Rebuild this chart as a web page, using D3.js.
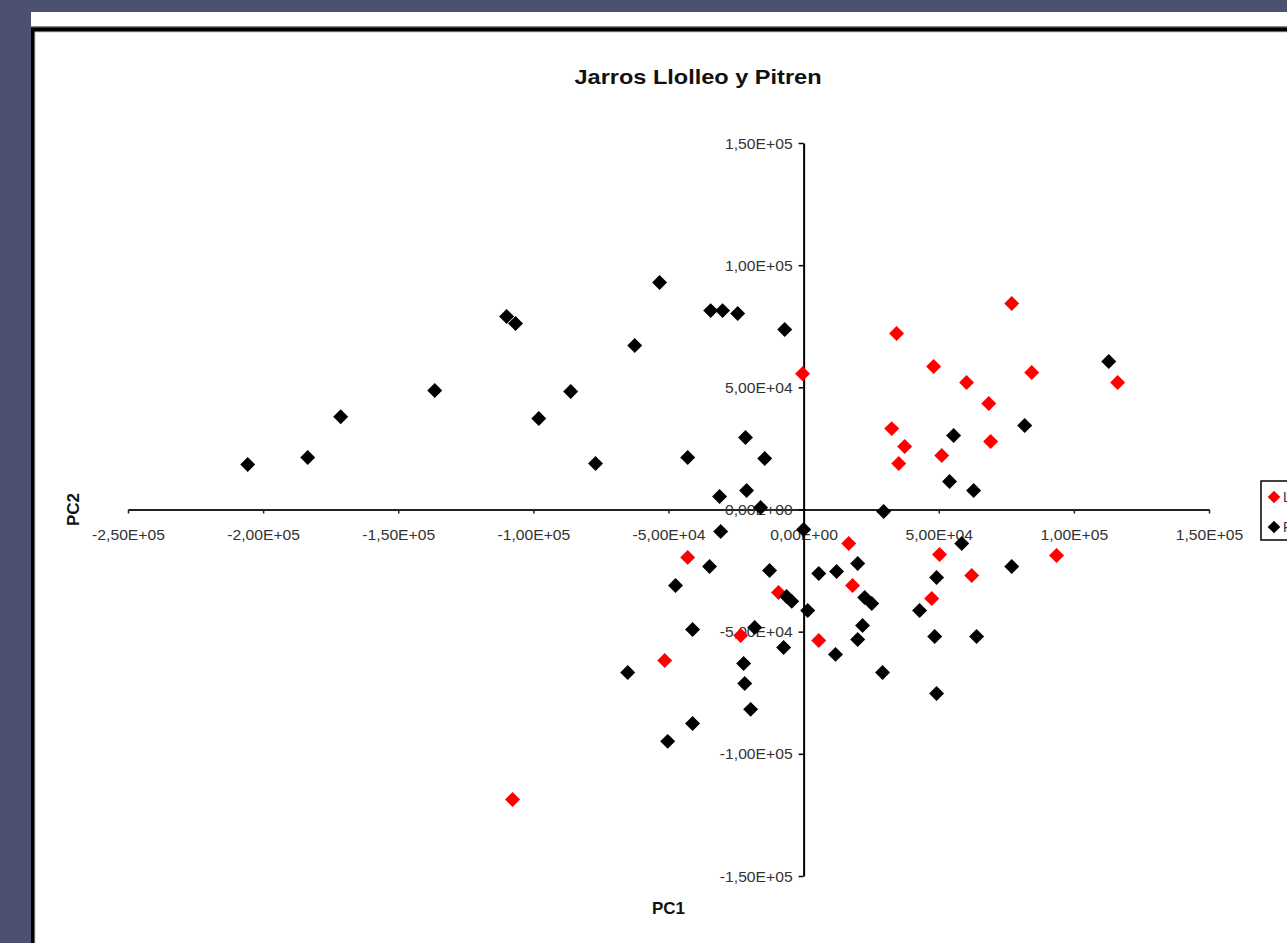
<!DOCTYPE html>
<html>
<head>
<meta charset="utf-8">
<script src="https://cdn.jsdelivr.net/npm/d3@7"></script>
<style>
  html, body { margin: 0; padding: 0; background: #4d5170; overflow: hidden; }
  svg { display: block; }
</style>
</head>
<body>
<svg id="chart" width="1287" height="943"></svg>
<script>
// ---------- DATA ----------
const chartTitle = "Jarros Llolleo y Pitren";
const seriesNames = ["Llolleo", "Pitren"];
const seriesColors = ["#ff0000", "#000000"];

const llolleoX = [-400, 34400, 77000, 48100, 60300, 84400, 116200, 68500, 32600, 37400, 69200, 35200, 51100,
  -42900, -9300, -23300, -51400, -107700, 16700, 18100, 5600, 50300, 62200, 93600, 47400];
const llolleoY = [55600, 72000, 84300, 58500, 52000, 56100, 52000, 43400, 33100, 25800, 27800, 18800, 22100,
  -19600, -34000, -51600, -61800, -118700, -13900, -31100, -53600, -18400, -27000, -18800, -36400];

const pitrenX = [-205700, -183500, -171300, -136500, -109900, -106600, -98000, -86200, -77000, -53300,
  -62500, -42900, -34400, -30000, -24400, -7000, -21500, -14400, -31100, -21100,
  -15900, -30700, 0, 29600, 54000, 62900, 55500, 81800, 112900, -34800,
  -47400, -41100, -65100, -41100, -50300, -12600, -6300, -4400, 1500, -18100,
  -7400, -22200, -21800, -19600, 5600, 12200, 20000, 22600, 25200, 21800,
  20000, 11800, 29200, 42900, 49200, 48500, 58500, 64000, 77000, 49200];
const pitrenY = [18400, 21300, 38000, 48700, 79000, 76100, 37200, 48300, 18800, 92900,
  67100, 21300, 81400, 81400, 80200, 73700, 29500, 20900, 5300, 7800,
  800, -9000, -8200, -800, 11500, 7800, 30300, 34400, 60600, -23300,
  -31100, -49100, -66700, -87600, -94900, -25000, -35600, -37600, -41300, -48300,
  -56500, -63000, -71200, -81800, -26200, -25400, -22100, -36000, -38500, -47500,
  -53200, -59300, -66700, -41300, -27800, -52000, -13900, -52000, -23300, -75300];

const xTickValues = [-250000, -200000, -150000, -100000, -50000, 0, 50000, 100000, 150000];
const xTickLabels = ["-2,50E+05", "-2,00E+05", "-1,50E+05", "-1,00E+05", "-5,00E+04", "0,00E+00", "5,00E+04", "1,00E+05", "1,50E+05"];
const yTickValues = [-150000, -100000, -50000, 0, 50000, 100000, 150000];
const yTickLabels = ["-1,50E+05", "-1,00E+05", "-5,00E+04", "0,00E+00", "5,00E+04", "1,00E+05", "1,50E+05"];
const xAxisTitle = "PC1";
const yAxisTitle = "PC2";

// ---------- DRAW ----------
const svg = d3.select("#chart");
const W = 1287, H = 943;

// page background / frame
svg.append("rect").attr("x", 0).attr("y", 0).attr("width", W).attr("height", H).attr("fill", "#4d5170");
svg.append("rect").attr("x", 31).attr("y", 12).attr("width", W - 31).attr("height", 15).attr("fill", "#ffffff");
svg.append("rect").attr("x", 31).attr("y", 26).attr("width", W - 31).attr("height", 1.5).attr("fill", "#8a8a8a");
svg.append("rect").attr("x", 31).attr("y", 27.5).attr("width", W - 31).attr("height", H - 27.5).attr("fill", "#000000");
svg.append("rect").attr("x", 34.5).attr("y", 31.5).attr("width", W - 34.5).attr("height", H - 31.5).attr("fill", "#c8c8c8");
svg.append("rect").attr("x", 35.5).attr("y", 32.5).attr("width", W - 35.5).attr("height", H - 32.5).attr("fill", "#ffffff");

const x = d3.scaleLinear().domain([-250000, 150000]).range([128, 1209]);
const y = d3.scaleLinear().domain([-150000, 150000]).range([876, 143]);

const labelFont = "'Liberation Sans', Arial, sans-serif";
const labelColor = "#333333";
const stretch = 1.12;

function stretchText(sel) {
  sel.each(function () {
    const len = this.getComputedTextLength();
    d3.select(this).attr("textLength", len * stretch).attr("lengthAdjust", "spacingAndGlyphs");
  });
}

// X axis
const xAxis = d3.axisBottom(x)
  .tickValues(xTickValues)
  .tickFormat((d, i) => xTickLabels[i])
  .tickSizeInner(4)
  .tickSizeOuter(0);
const gx = svg.append("g").attr("transform", `translate(0,${y(0)})`).call(xAxis);
gx.select(".domain").attr("stroke", "#222").attr("stroke-width", 2);
gx.selectAll(".tick line").attr("stroke", "#222").attr("stroke-width", 1.5);
gx.selectAll(".tick text")
  .attr("y", 30).attr("dy", 0)
  .attr("font-family", labelFont).attr("font-size", 14)
  .attr("fill", labelColor)
  .call(stretchText);

// Y axis
const yAxis = d3.axisLeft(y)
  .tickValues(yTickValues)
  .tickFormat((d, i) => yTickLabels[i])
  .tickSizeInner(5)
  .tickSizeOuter(0);
const gy = svg.append("g").attr("transform", `translate(${x(0)},0)`).call(yAxis);
gy.select(".domain").attr("stroke", "#000").attr("stroke-width", 2);
gy.selectAll(".tick line").attr("stroke", "#000").attr("stroke-width", 1.5);
gy.selectAll(".tick text")
  .attr("x", -11).attr("dy", "0.36em")
  .attr("font-family", labelFont).attr("font-size", 14)
  .attr("fill", labelColor)
  .call(stretchText);

// Title
svg.append("text")
  .attr("x", 698).attr("y", 84)
  .attr("text-anchor", "middle")
  .attr("font-family", labelFont).attr("font-weight", "bold").attr("font-size", 21)
  .attr("fill", "#111")
  .text(chartTitle)
  .call(stretchText);

// Axis titles
svg.append("text")
  .attr("x", x.range()[0] / 2 + x.range()[1] / 2).attr("y", 914)
  .attr("text-anchor", "middle")
  .attr("font-family", labelFont).attr("font-weight", "bold").attr("font-size", 17)
  .attr("fill", "#111")
  .text(xAxisTitle);

svg.append("text")
  .attr("transform", `translate(79,${y(0)}) rotate(-90)`)
  .attr("text-anchor", "middle")
  .attr("font-family", labelFont).attr("font-weight", "bold").attr("font-size", 17)
  .attr("fill", "#111")
  .text(yAxisTitle);

// Markers
const diamond = d3.symbol().type(d3.symbolSquare).size(112);
const series = [
  { name: seriesNames[0], color: seriesColors[0], xs: llolleoX, ys: llolleoY },
  { name: seriesNames[1], color: seriesColors[1], xs: pitrenX, ys: pitrenY }
];
series.forEach(s => {
  svg.append("g").selectAll("path")
    .data(s.xs.map((v, i) => [v, s.ys[i]]))
    .join("path")
    .attr("d", diamond)
    .attr("transform", d => `translate(${x(d[0])},${y(d[1])}) rotate(45)`)
    .attr("fill", s.color);
});

// Legend
const lg = svg.append("g").attr("transform", "translate(1261,481)");
lg.append("rect").attr("x", 0).attr("y", 0).attr("width", 120).attr("height", 59)
  .attr("fill", "#fff").attr("stroke", "#000").attr("stroke-width", 1.5);
series.forEach((s, i) => {
  lg.append("path").attr("d", d3.symbol().type(d3.symbolSquare).size(80)())
    .attr("transform", `translate(13,${16 + i * 30}) rotate(45)`)
    .attr("fill", s.color);
  lg.append("text").attr("x", 22).attr("y", 16 + i * 30).attr("dy", "0.36em")
    .attr("font-family", labelFont).attr("font-size", 14).attr("fill", "#333")
    .text(s.name);
});
</script>
</body>
</html>
